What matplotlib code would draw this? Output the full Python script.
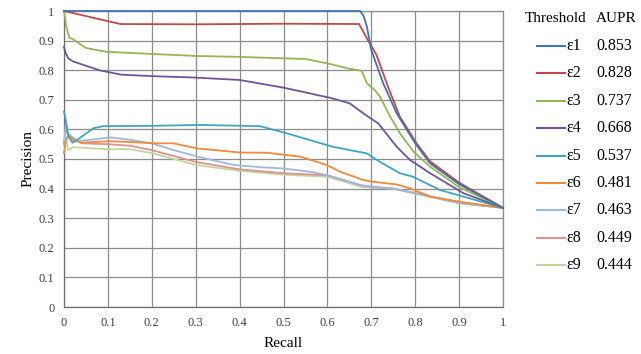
import matplotlib
matplotlib.use("Agg")
import matplotlib.pyplot as plt
from matplotlib.lines import Line2D

plt.rcParams['font.family'] = ['Liberation Serif', 'DejaVu Serif']

labels = ["ε1", "ε2", "ε3", "ε4", "ε5", "ε6", "ε7", "ε8", "ε9"]
aupr = ["0.853", "0.828", "0.737", "0.668", "0.537", "0.481", "0.463", "0.449", "0.444"]
colors = ["#4472AE", "#BE4B48", "#94B656", "#6E559B", "#3FA6C0", "#F08A3C",
          "#9FB8DD", "#DC9391", "#C2D69C"]

r1 = [0, 0.674, 0.682, 0.69, 0.70, 0.727, 0.758, 0.80, 0.834, 0.9, 1.0]
p1 = [1.0, 1.0, 0.985, 0.947, 0.868, 0.756, 0.654, 0.553, 0.485, 0.415, 0.335]

r2 = [0, 0.128, 0.3, 0.5, 0.672, 0.68, 0.692, 0.712, 0.738, 0.765, 0.803, 0.834, 0.9, 1.0]
p2 = [1.0, 0.956, 0.955, 0.957, 0.956, 0.935, 0.902, 0.851, 0.744, 0.643, 0.553, 0.492, 0.42, 0.335]

r3 = [0, 0.005, 0.012, 0.02, 0.05, 0.097, 0.2, 0.302, 0.4, 0.5, 0.55, 0.606, 0.65, 0.678,
      0.69, 0.708, 0.72, 0.743, 0.765, 0.796, 0.834, 0.9, 1.0]
p3 = [1.0, 0.95, 0.91, 0.905, 0.875, 0.862, 0.855, 0.848, 0.845, 0.84, 0.838, 0.821, 0.805, 0.798,
      0.756, 0.733, 0.71, 0.643, 0.587, 0.525, 0.474, 0.405, 0.335]

r4 = [0, 0.003, 0.01, 0.02, 0.05, 0.08, 0.13, 0.2, 0.3, 0.4, 0.5, 0.55, 0.583, 0.606, 0.651,
      0.682, 0.716, 0.758, 0.788, 0.834, 0.909, 1.0]
p4 = [0.88, 0.86, 0.84, 0.83, 0.815, 0.80, 0.785, 0.78, 0.775, 0.767, 0.741, 0.725, 0.714, 0.707,
      0.688, 0.654, 0.62, 0.541, 0.497, 0.452, 0.385, 0.335]

r5 = [0, 0.003, 0.01, 0.02, 0.04, 0.067, 0.09, 0.2, 0.31, 0.446, 0.507, 0.56, 0.613, 0.69,
      0.72, 0.765, 0.795, 0.857, 1.0]
p5 = [0.66, 0.64, 0.575, 0.555, 0.575, 0.604, 0.611, 0.612, 0.615, 0.611, 0.587, 0.564, 0.541,
      0.519, 0.49, 0.452, 0.44, 0.395, 0.335]

r6 = [0, 0.004, 0.01, 0.02, 0.04, 0.1, 0.143, 0.203, 0.249, 0.302, 0.4, 0.462, 0.538, 0.598,
      0.629, 0.682, 0.704, 0.758, 0.788, 0.834, 0.9, 1.0]
p6 = [0.52, 0.56, 0.58, 0.565, 0.555, 0.56, 0.558, 0.553, 0.553, 0.536, 0.522, 0.521, 0.508, 0.48,
      0.457, 0.429, 0.423, 0.414, 0.401, 0.373, 0.356, 0.335]

r7 = [0, 0.004, 0.01, 0.03, 0.06, 0.105, 0.15, 0.2, 0.25, 0.31, 0.386, 0.45, 0.5, 0.56, 0.598,
      0.674, 0.7, 0.75, 0.8, 0.9, 1.0]
p7 = [0.55, 0.62, 0.585, 0.56, 0.565, 0.573, 0.565, 0.553, 0.53, 0.506, 0.48, 0.472, 0.468,
      0.457, 0.446, 0.412, 0.405, 0.40, 0.385, 0.352, 0.335]

r8 = [0, 0.004, 0.01, 0.04, 0.1, 0.15, 0.2, 0.3, 0.4, 0.5, 0.6, 0.68, 0.75, 0.8, 0.9, 1.0]
p8 = [0.55, 0.60, 0.58, 0.553, 0.55, 0.545, 0.53, 0.49, 0.465, 0.452, 0.445, 0.41, 0.40, 0.385,
      0.352, 0.335]

r9 = [0, 0.004, 0.01, 0.02, 0.1, 0.15, 0.2, 0.3, 0.4, 0.5, 0.6, 0.68, 0.75, 0.8, 0.9, 1.0]
p9 = [0.56, 0.57, 0.53, 0.54, 0.533, 0.533, 0.52, 0.48, 0.46, 0.447, 0.44, 0.405, 0.40, 0.383,
      0.35, 0.335]

recalls = [r1, r2, r3, r4, r5, r6, r7, r8, r9]
precisions = [p1, p2, p3, p4, p5, p6, p7, p8, p9]

tick_vals = [0, 0.1, 0.2, 0.3, 0.4, 0.5, 0.6, 0.7, 0.8, 0.9, 1]
tick_labels = ["0", "0.1", "0.2", "0.3", "0.4", "0.5", "0.6", "0.7", "0.8", "0.9", "1"]

W, H = 641, 354
fig = plt.figure(figsize=(W / 100, H / 100), dpi=100)
ax = fig.add_axes([64 / W, 1 - 307 / H, (503 - 64) / W, (307 - 11) / H])

# draw in reverse so ε1 is on top
for i in reversed(range(len(labels))):
    ax.plot(recalls[i], precisions[i], color=colors[i], lw=1.3, clip_on=False, zorder=3)

ax.set_xlim(0, 1)
ax.set_ylim(0, 1)
ax.set_xticks(tick_vals)
ax.set_xticklabels(tick_labels)
ax.set_yticks(tick_vals)
ax.set_yticklabels(tick_labels)
ax.grid(True, color="#8c8c8c", lw=0.9)
ax.set_axisbelow(True)
for s in ax.spines.values():
    s.set_color("#8c8c8c")
    s.set_linewidth(0.9)
ax.spines['left'].set_color("#6e6e6e")
ax.spines['bottom'].set_color("#6e6e6e")
ax.tick_params(length=0, labelsize=9, colors="#404040", pad=7)
ax.set_xlabel("Recall", fontsize=11, labelpad=6)
ax.set_ylabel("Precision", fontsize=11, labelpad=3)

# legend table
fig.text(525 / W, 1 - 19 / H, "Threshold", fontsize=11, va="center", ha="left")
fig.text(596 / W, 1 - 19 / H, "AUPR", fontsize=11, va="center", ha="left")
for i in range(len(labels)):
    y = 1 - (46 + i * 27.4) / H
    fig.add_artist(Line2D([537 / W, 565 / W], [y, y], color=colors[i], lw=1.5,
                          transform=fig.transFigure))
    fig.text(566 / W, y, labels[i], fontsize=11.5, va="center", ha="left")
    fig.text(596 / W, y, aupr[i], fontsize=11.5, va="center", ha="left")

fig.savefig("out.png", dpi=100)
